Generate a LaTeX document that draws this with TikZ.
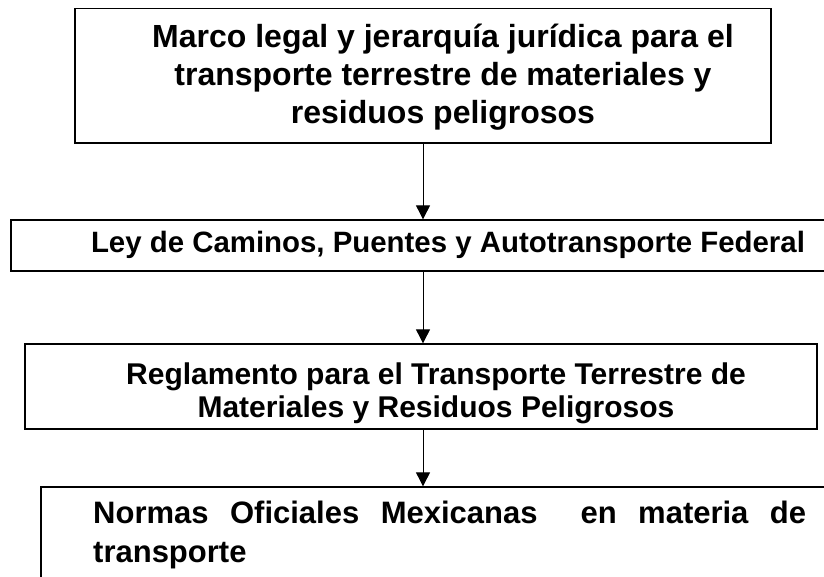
\documentclass[tikz,border=0pt]{standalone}
\usepackage{fontspec}
\setmainfont{Liberation Sans}
\usetikzlibrary{arrows.meta, positioning}

\tikzset{
	box/.style={draw, line width=1.3pt, inner sep=0pt},
	lbl/.style={align=center, inner sep=0pt, font=\fontsize{32}{38}\selectfont\bfseries},
	arr/.style={line width=0.9pt, -{Triangle[width=14pt, length=14pt]}}
}

\begin{document}
\begin{tikzpicture}[x=1pt, y=1pt]
	\useasboundingbox (0,0) rectangle (824,-577);
	\clip (0,0) rectangle (824,-577);

	% boxes
	\node[box, minimum width=696pt, minimum height=134.5pt] (b1) at (423,-75.75) {};
	\node[box, minimum width=839pt, minimum height=51pt] (b2) at (430.5,-245.5) {};
	\node[box, minimum width=792pt, minimum height=85pt] (b3) at (421,-386.5) {};
	\node[box, minimum width=809pt, minimum height=113pt] (b4) at (445.5,-543.5) {};

	% texts
	\node[lbl] (t1) at (443,-77) {Marco legal y jerarquía jurídica para el\\transporte terrestre de materiales y\\residuos peligrosos};
	\node[lbl, font=\fontsize{29.4}{33}\selectfont\bfseries] (t2) at (448,-245) {Ley de Caminos, Puentes y Autotransporte Federal};
	\node[lbl, font=\fontsize{30}{33}\selectfont\bfseries] (t3) at (436,-393) {Reglamento para el Transporte Terrestre de\\Materiales y Residuos Peligrosos};
	\node[lbl, align=left, anchor=west, font=\fontsize{31}{39}\selectfont\bfseries] (t4) at (93,-534.5) {\makebox[713pt][s]{Normas Oficiales Mexicanas\ \ en materia de}\\transporte};

	% arrows
	\draw[arr] (b1.south) -- (b1.south |- b2.north);
	\draw[arr] (b1.south |- b2.south) -- (b1.south |- b3.north);
	\draw[arr] (b1.south |- b3.south) -- (b1.south |- b4.north);
\end{tikzpicture}
\end{document}
